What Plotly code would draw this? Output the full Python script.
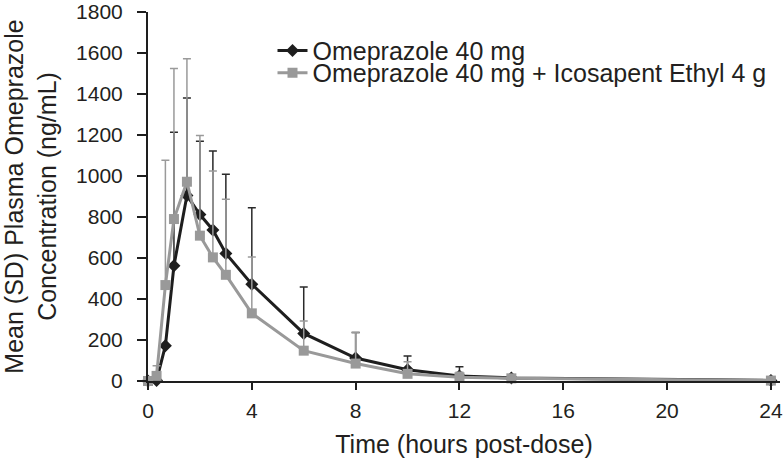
import plotly.graph_objects as go

# Time points (hours post-dose)
time_h = [0, 0.33, 0.67, 1, 1.5, 2, 2.5, 3, 4, 6, 8, 10, 12, 14, 24]

# Omeprazole 40 mg
ome_mean = [0, 3, 172, 562, 905, 812, 737, 622, 472, 232, 112, 55, 25, 15, 3]
ome_sd = [0, 0, 0, 651, 476, 358, 385, 387, 373, 227, 124, 67, 45, 10, 3]

# Omeprazole 40 mg + Icosapent Ethyl 4 g
ico_mean = [0, 25, 468, 790, 972, 709, 603, 518, 330, 148, 85, 35, 18, 13, 2]
ico_sd = [0, 50, 609, 735, 600, 488, 421, 368, 275, 145, 151, 59, 25, 8, 3]

name_ome = "Omeprazole 40 mg"
name_ico = "Omeprazole 40 mg + Icosapent Ethyl 4 g"

x_ticks = [0, 4, 8, 12, 16, 20, 24]
y_ticks = [0, 200, 400, 600, 800, 1000, 1200, 1400, 1600, 1800]

FONT = "Liberation Sans, Arial, sans-serif"
TXT = "#231f20"

fig = go.Figure()

fig.add_trace(go.Scatter(
    x=time_h, y=ome_mean, name=name_ome, mode="lines+markers",
    line=dict(color="#1e1e1e", width=3),
    marker=dict(symbol="diamond", size=10, color="#1e1e1e"),
    error_y=dict(type="data", symmetric=False, array=ome_sd,
                 arrayminus=[0] * len(ome_sd), color="#2a2a2a",
                 thickness=1.5, width=4),
    cliponaxis=False,
))

fig.add_trace(go.Scatter(
    x=time_h, y=ico_mean, name=name_ico, mode="lines+markers",
    line=dict(color="#999999", width=3),
    marker=dict(symbol="square", size=10, color="#999999"),
    error_y=dict(type="data", symmetric=False, array=ico_sd,
                 arrayminus=[0] * len(ico_sd), color="#9a9a9a",
                 thickness=1.5, width=4),
    cliponaxis=False, legend="legend2",
))

legend_common = dict(
    xanchor="left", yanchor="middle",
    font=dict(family=FONT, size=25, color=TXT),
    bgcolor="rgba(0,0,0,0)", borderwidth=0, itemwidth=30,
)

fig.update_layout(
    template="none",
    width=784, height=460,
    margin=dict(l=148, r=4, t=12, b=79, autoexpand=False),
    paper_bgcolor="white", plot_bgcolor="white",
    font=dict(family=FONT, size=21, color=TXT),
    showlegend=True,
    legend=dict(x=0.197, y=0.895, **legend_common),
    legend2=dict(x=0.197, y=0.835, **legend_common),
    xaxis=dict(
        range=[0, 24.35], tickvals=x_ticks, ticktext=[str(v) for v in x_ticks],
        showgrid=False, zeroline=False, automargin=False,
        showline=True, linecolor="#1e1e1e", linewidth=2,
        ticks="outside", ticklen=7, tickwidth=2, tickcolor="#1e1e1e",
        ticklabelstandoff=3, ticklabeloverflow="allow",
        tickfont=dict(family=FONT, size=21, color=TXT),
        title=dict(text="Time (hours post-dose)",
                   font=dict(family=FONT, size=25, color=TXT), standoff=14),
    ),
    yaxis=dict(
        range=[0, 1800], tickvals=y_ticks, ticktext=[str(v) for v in y_ticks],
        showgrid=False, zeroline=False, automargin=False,
        showline=True, linecolor="#1e1e1e", linewidth=2,
        ticks="outside", ticklen=9, tickwidth=2, tickcolor="#1e1e1e",
        ticklabelstandoff=10, ticklabeloverflow="allow",
        tickfont=dict(family=FONT, size=21, color=TXT),
        title=dict(text="Mean (SD) Plasma Omeprazole<br>Concentration (ng/mL)",
                   font=dict(family=FONT, size=25, color=TXT), standoff=32),
    ),
)

fig.write_html("out.html", config={"displayModeBar": False},
               post_script="document.body.style.margin='0';")
